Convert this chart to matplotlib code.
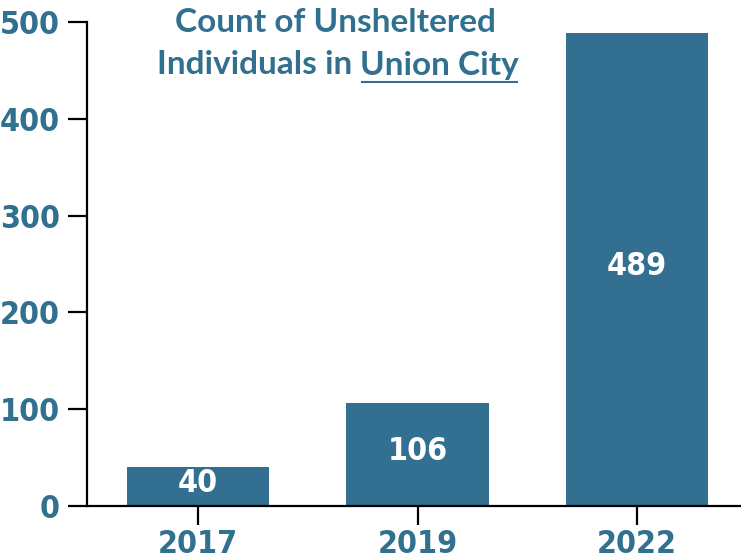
import matplotlib
matplotlib.use("Agg")
from matplotlib import pyplot as plt

years = ["2017", "2019", "2022"]
counts = [40, 106, 489]
yticks = [0, 100, 200, 300, 400, 500]

teal = "#32708f"
bar_color = "#326f91"
num_font = dict(family="DejaVu Sans", fontweight="bold", fontstretch="condensed")

fig = plt.figure(figsize=(7.41, 5.57), dpi=100)
ax = fig.add_axes([0.1174, 0.0916, 0.8826, 0.8689])

x = list(range(len(years)))
ax.bar(x, counts, width=0.65, color=bar_color, zorder=2)
for xi, v in zip(x, counts):
    ax.text(xi, v / 2 + 3, str(v), ha="center", va="center", color="white",
            fontsize=23, **num_font)

ax.set_xlim(-0.507, 2.475)
ax.set_ylim(0, 500)
ax.set_xticks(x)
ax.set_xticklabels(years)
ax.set_yticks(yticks)
ax.spines["top"].set_visible(False)
ax.spines["right"].set_visible(False)
ax.spines["left"].set_linewidth(1.6)
ax.spines["bottom"].set_linewidth(1.6)
ax.tick_params(axis="both", direction="out", length=13.5, width=1.6, colors="black",
               labelcolor=teal, labelsize=23)
ax.tick_params(axis="y", pad=6)
ax.tick_params(axis="x", pad=3)
for lab in ax.get_xticklabels() + ax.get_yticklabels():
    lab.set_fontfamily(num_font["family"])
    lab.set_fontweight("bold")
    lab.set_fontstretch("condensed")

# title, two lines, last words underlined
tkw = dict(fontsize=24, fontweight="bold", color=teal, family="Lato")
fig.text(335 / 741, 1 - 23 / 557, "Count of Unsheltered", ha="center", va="center", **tkw)
fig.canvas.draw()
r = fig.canvas.get_renderer()
part_a = "Individuals in "
part_b = "Union City"
ta = fig.text(0, 1 - 65 / 557, part_a, ha="left", va="center", **tkw)
tb = fig.text(0, 1 - 65 / 557, part_b, ha="left", va="center", **tkw)
wa = ta.get_window_extent(r).width
wb = tb.get_window_extent(r).width
x0 = 338 - (wa + wb) / 2
ta.set_x(x0 / 741)
tb.set_x((x0 + wa) / 741)
fig.add_artist(plt.Line2D([(x0 + wa + 2) / 741, (x0 + wa + wb - 2) / 741],
                          [1 - 82 / 557, 1 - 82 / 557], color=teal, lw=1.5))

plt.savefig("out.png", dpi=100)
plt.close()
